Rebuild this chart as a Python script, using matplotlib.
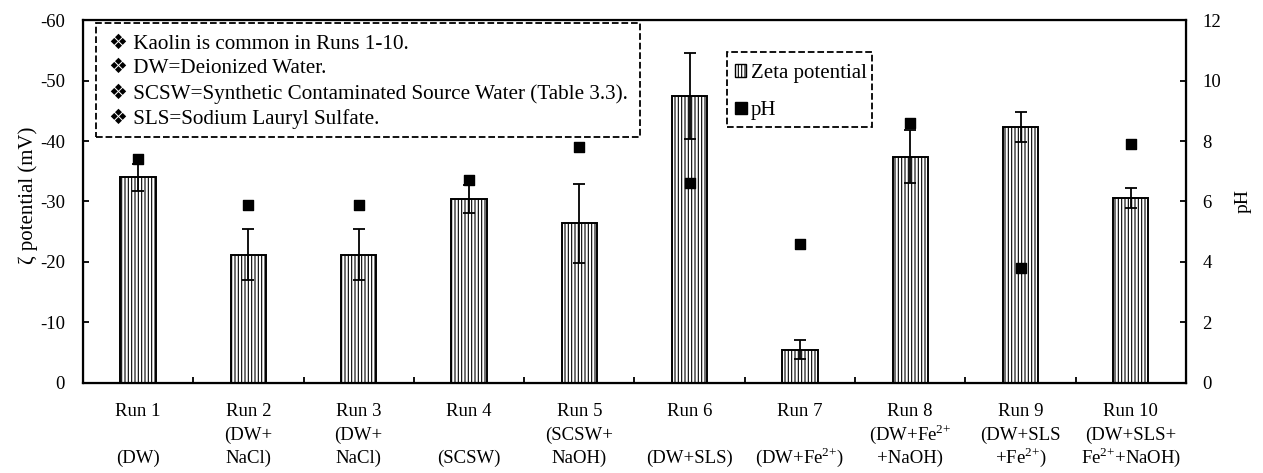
import matplotlib.pyplot as plt
import matplotlib.patches as mpatches
from matplotlib.lines import Line2D
import numpy as np

plt.rcParams['font.family'] = ['Liberation Serif', 'DejaVu Sans']
plt.rcParams['mathtext.fontset'] = 'custom'
plt.rcParams['mathtext.rm'] = 'Liberation Serif'
plt.rcParams['axes.unicode_minus'] = False
plt.rcParams['hatch.linewidth'] = 0.8

# x labels: run name, then the two-line sample description
runs = ["Run 1", "Run 2", "Run 3", "Run 4", "Run 5",
        "Run 6", "Run 7", "Run 8", "Run 9", "Run 10"]
desc_top = ["", "(DW+", "(DW+", "", "(SCSW+", "", "",
            "(DW+Fe$^{2{+}}$", "(DW+SLS", "(DW+SLS+"]
desc_bot = ["(DW)", "NaCl)", "NaCl)", "(SCSW)", "NaOH)", "(DW+SLS)",
            "(DW+Fe$^{2{+}}$)", "+NaOH)", "+Fe$^{2{+}}$)", "Fe$^{2{+}}$+NaOH)"]
zeta = [-34.0, -21.2, -21.2, -30.4, -26.4, -47.4, -5.5, -37.4, -42.3, -30.6]
zeta_err = [2.2, 4.2, 4.2, 2.3, 6.5, 7.1, 1.6, 4.4, 2.5, 1.6]
ph = [7.4, 5.9, 5.9, 6.7, 7.8, 6.6, 4.6, 8.6, 3.8, 7.9]

notes = ["❖ Kaolin is common in Runs 1-10.",
         "❖ DW=Deionized Water.",
         "❖ SCSW=Synthetic Contaminated Source Water (Table 3.3).",
         "❖ SLS=Sodium Lauryl Sulfate."]

fig = plt.figure(figsize=(12.63, 4.73), dpi=100)
ax = fig.add_axes([0.0657, 0.1903, 0.8733, 0.7674])
x = np.arange(len(runs))

ax.bar(x, zeta, width=0.32, color='white', edgecolor='black', hatch='|||||',
       linewidth=1.4, zorder=2)
ax.errorbar(x, zeta, yerr=zeta_err, fmt='none', ecolor='black', elinewidth=1.3,
            capsize=4, capthick=1.3, zorder=3)
ax.set_ylim(0, -60)
ax.set_xlim(-0.5, len(runs) - 0.5)
ax.set_yticks(range(0, -61, -10))
ax.set_ylabel('ζ potential (mV)', fontsize=15)
ax.yaxis.set_label_coords(-0.041, 0.518)
ax.set_xticks(x)
ax.set_xticklabels([])
ax.tick_params(axis='x', length=0)
ax.set_xticks(np.arange(-0.5, len(runs), 1), minor=True)
ax.tick_params(axis='x', which='minor', direction='in', length=4, width=1.3)
ax.tick_params(axis='y', direction='in', length=4, width=1.3, labelsize=13.5, pad=13)
for s in ax.spines.values():
    s.set_linewidth(1.6)

# three rows of category labels
trans = ax.get_xaxis_transform()
for rows, yy in ((runs, -0.0909), (desc_top, -0.157), (desc_bot, -0.2204)):
    for xi, lab in zip(x, rows):
        ax.text(xi, yy, lab, transform=trans, ha='center', va='baseline', fontsize=13.5)

ax2 = ax.twinx()
ax2.scatter(x, ph, marker='s', s=60, color='black', zorder=4)
ax2.set_ylim(0, 12)
ax2.set_yticks(range(0, 13, 2))
ax2.set_ylabel('pH', fontsize=14)
ax2.yaxis.set_label_coords(1.0444, 0.5)
ax2.tick_params(axis='y', direction='in', length=4, width=1.3, labelsize=13.5, pad=12)

# notes box
ax2.add_patch(mpatches.Rectangle((0.0118, 0.678), 0.4932, 0.3139, transform=ax.transAxes,
                                 facecolor='white', edgecolor='black', linestyle='--',
                                 linewidth=1.3, zorder=5))
for i, line in enumerate(notes):
    ax2.text(0.024, 0.934 - i * 0.0685, line, transform=ax.transAxes, ha='left',
             va='center', fontsize=15.2, zorder=6)

# legend with a dashed frame drawn separately
ax2.add_patch(mpatches.Rectangle((0.5839, 0.7052), 0.1315, 0.2066, transform=ax.transAxes,
                                 facecolor='white', edgecolor='black', linestyle='--',
                                 linewidth=1.3, zorder=5))
handles = [mpatches.Patch(facecolor='white', edgecolor='black', hatch='|||||', label='Zeta potential'),
           Line2D([], [], marker='s', color='black', linestyle='none', markersize=8, label='pH')]
leg = ax2.legend(handles=handles, loc='upper left', bbox_to_anchor=(0.5911, 0.879),
                 fontsize=15, frameon=False, handlelength=0.55, handleheight=0.55,
                 handletextpad=0.2, labelspacing=0.85, borderpad=0, borderaxespad=0)
leg.set_zorder(6)

fig.savefig('out.png', dpi=100)
